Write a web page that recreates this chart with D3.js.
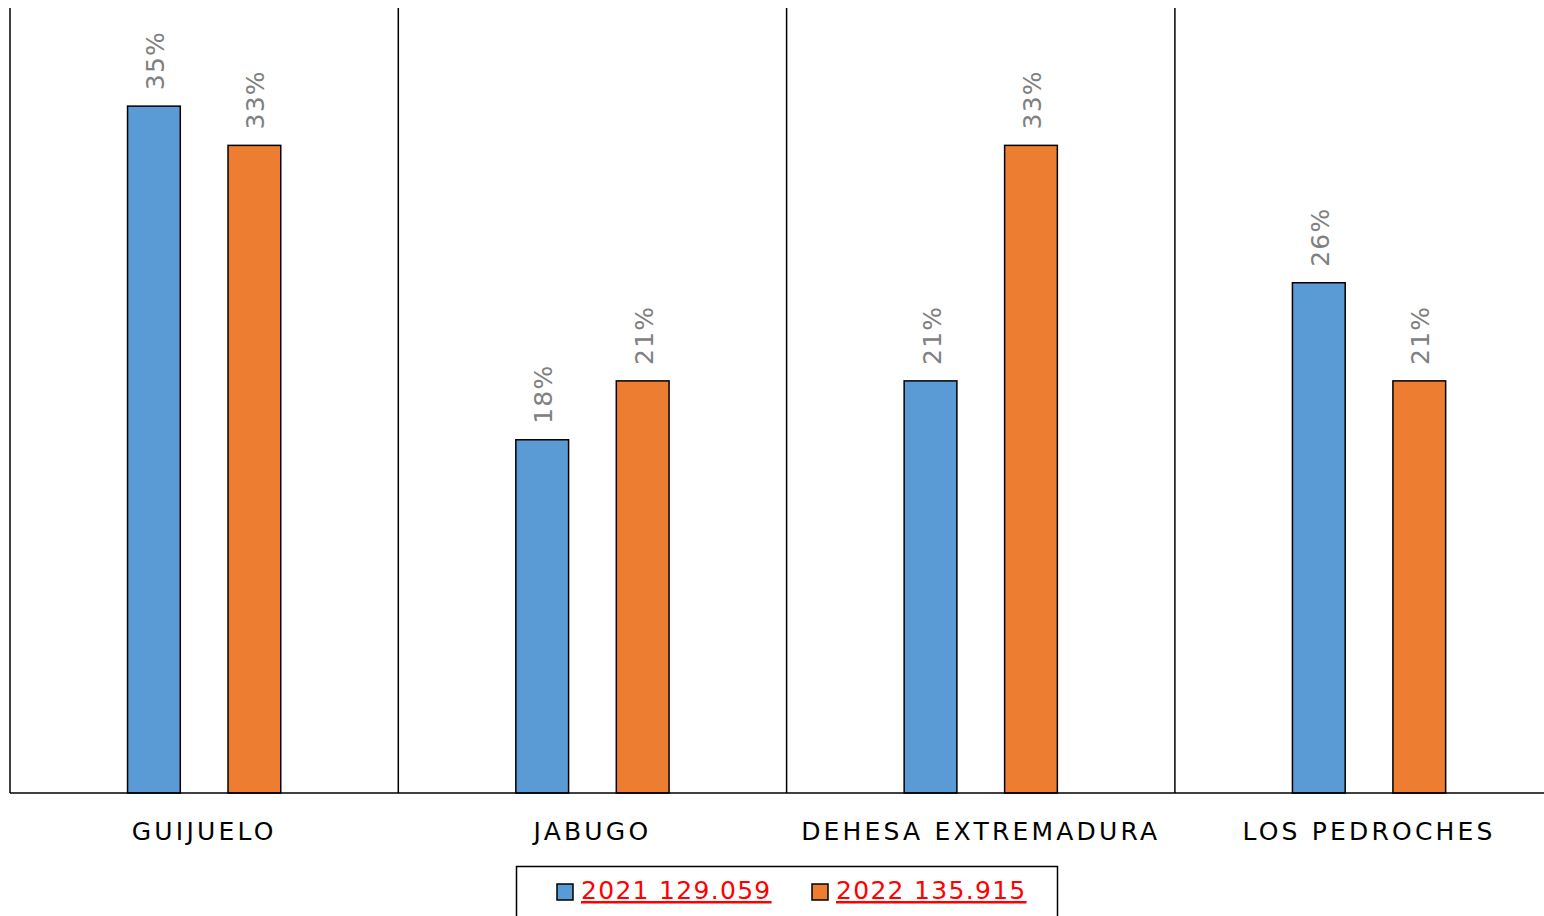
<!DOCTYPE html>
<html><head><meta charset="utf-8">
<script src="https://cdn.jsdelivr.net/npm/d3@7"></script>
<style>html,body{margin:0;padding:0;background:#fff;overflow:hidden}</style>
</head><body>
<svg id="chart" width="1544" height="916"></svg>
<script>
const categories = ["GUIJUELO", "JABUGO", "DEHESA EXTREMADURA", "LOS PEDROCHES"];
const seriesNames = ["2021 129.059", "2022 135.915"];
const values2021 = [35, 18, 21, 26];
const values2022 = [33, 21, 33, 21];
const seriesColors = ["#5B9BD5", "#ED7D31"];

const svg = d3.select("#chart");
const plotLeft = 10, plotTop = 8, plotBottom = 793;
const bandW = 388.3;
const x = d3.scaleBand().domain(categories).range([plotLeft, plotLeft + bandW * categories.length]).padding(0);
const xs = d3.scaleBand().domain(seriesNames).range([0, x.bandwidth()]).paddingInner(0.475).paddingOuter(1.17);
const y = d3.scaleLinear().domain([0, 40]).range([plotBottom, plotTop]);

const data = categories.map((c, i) => ({cat: c, vals: [values2021[i], values2022[i]]}));

// separators
const seps = svg.append("g");
categories.forEach(c => {
  seps.append("line").attr("x1", x(c)).attr("x2", x(c)).attr("y1", y(40)).attr("y2", y(0))
    .attr("stroke", "#000").attr("stroke-width", 1.5);
});

// bars
const g = svg.append("g");
data.forEach(d => {
  d.vals.forEach((v, si) => {
    const bx = x(d.cat) + xs(seriesNames[si]);
    g.append("rect").attr("x", bx).attr("y", y(v)).attr("width", xs.bandwidth()).attr("height", y(0) - y(v))
      .attr("fill", seriesColors[si]).attr("stroke", "#000").attr("stroke-width", 1.5);
    const cx = bx + xs.bandwidth() / 2;
    g.append("text").attr("transform", `translate(${cx + 1},${y(v) - 16}) rotate(-90)`)
      .attr("dy", "0.36em").attr("text-anchor", "start")
      .attr("font-family", "DejaVu Sans").attr("font-size", 25).attr("letter-spacing", 1.2)
      .attr("fill", "#808080").text(v + "%");
  });
});

// x axis line
svg.append("line").attr("x1", plotLeft).attr("x2", 1544).attr("y1", y(0)).attr("y2", y(0))
  .attr("stroke", "#000").attr("stroke-width", 1.5);

// category labels
categories.forEach(c => {
  svg.append("text").attr("x", x(c) + x.bandwidth() / 2).attr("y", 840)
    .attr("text-anchor", "middle").attr("font-family", "DejaVu Sans").attr("font-size", 25)
    .attr("letter-spacing", 3.2).attr("fill", "#000").text(c);
});

// legend
const lg = svg.append("g");
lg.append("rect").attr("x", 516.5).attr("y", 866.5).attr("width", 541).attr("height", 80)
  .attr("fill", "#fff").attr("stroke", "#000").attr("stroke-width", 1.5);
const legX = [557, 812];
seriesNames.forEach((s, i) => {
  lg.append("rect").attr("x", legX[i]).attr("y", 884).attr("width", 16).attr("height", 16)
    .attr("fill", seriesColors[i]).attr("stroke", "#000").attr("stroke-width", 1.5);
  lg.append("text").attr("x", legX[i] + 24).attr("y", 899)
    .attr("font-family", "DejaVu Sans").attr("font-size", 25).attr("letter-spacing", 1.3)
    .attr("fill", "#ff0000").attr("text-decoration", "underline").text(s);
});
</script>
</body></html>
